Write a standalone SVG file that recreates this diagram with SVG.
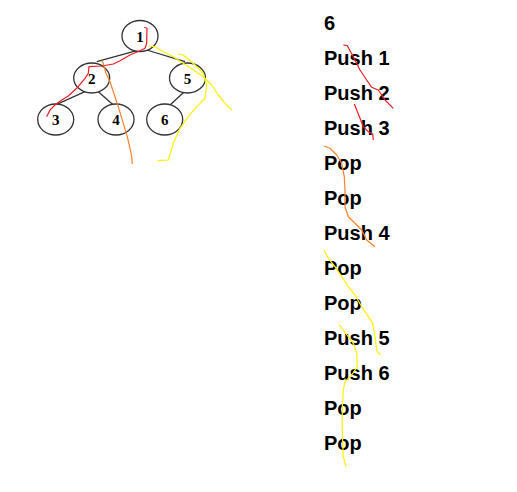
<svg xmlns="http://www.w3.org/2000/svg" width="517" height="492" viewBox="0 0 517 492">
<style>
.n ellipse{fill:#fff;stroke:#333;stroke-width:1.3}
.n text{font-family:"Liberation Serif",serif;font-weight:bold;font-size:15px;text-anchor:middle;fill:#000}
.e line{stroke:#333;stroke-width:1.3}
.s text{font-family:"Liberation Sans",Arial,sans-serif;font-weight:bold;font-size:20px;fill:#000}
.sc polyline{fill:none;stroke-width:1.2;stroke-linejoin:round}
.r{stroke:#ed1c24}.o{stroke:#ff7f27}.y{stroke:#fff200}
</style>
<rect width="517" height="492" fill="#fff"/>
<g class="e" id="connectors">
<line x1="136.7" y1="50.7" x2="96.7" y2="61.7"/>
<line x1="146.7" y1="50" x2="185" y2="61.7"/>
<line x1="85" y1="91.7" x2="56.7" y2="104.3"/>
<line x1="98.3" y1="91.7" x2="113.3" y2="105"/>
<line x1="183.3" y1="92.7" x2="170" y2="105"/>
</g>
<g class="n" id="node1"><ellipse cx="140" cy="36" rx="18" ry="15.5"/><text x="140" y="41.5">1</text></g>
<g class="n" id="node2"><ellipse cx="91.7" cy="78" rx="18" ry="15"/><text x="91.7" y="84">2</text></g>
<g class="n" id="node5"><ellipse cx="187.5" cy="78" rx="18" ry="15"/><text x="187.5" y="84">5</text></g>
<g class="n" id="node3"><ellipse cx="55.7" cy="119.5" rx="18" ry="15.5"/><text x="55.7" y="125">3</text></g>
<g class="n" id="node4"><ellipse cx="116" cy="119.5" rx="18" ry="15.5"/><text x="116" y="125">4</text></g>
<g class="n" id="node6"><ellipse cx="164.7" cy="119.5" rx="18" ry="15.5"/><text x="164.7" y="125">6</text></g>
<g class="s" id="steps">
<text x="324" y="30">6</text>
<text x="324" y="65">Push 1</text>
<text x="324" y="100">Push 2</text>
<text x="324" y="135">Push 3</text>
<text x="324" y="170">Pop</text>
<text x="324" y="205">Pop</text>
<text x="324" y="240">Push 4</text>
<text x="324" y="275">Pop</text>
<text x="324" y="310">Pop</text>
<text x="324" y="345">Push 5</text>
<text x="324" y="380">Push 6</text>
<text x="324" y="415">Pop</text>
<text x="324" y="450">Pop</text>
</g>
<g class="sc" id="scribbles">
<polyline class="r" points="144.3,27.3 147,28.3 146.7,43.3 145,48.3 140,50.7 130,55 120,60.7 113.3,64 101.7,66 89,66.7 88.3,73.3 85,78.3 76.7,88.3 68.3,96 61.7,100 55,105 50,110 46.7,116.7"/>
<polyline class="o" points="101.7,60.7 103.3,63.3 106,73.3 110,81.7 115,96.7 118.3,106.7 123.3,123.3 127.3,136.7 130,148.3 131.7,156.7 132.3,164"/>
<polyline class="y" points="148.3,46 155,46.7 163.3,51.7 173.3,56.7 183.3,63.3 193.3,70 203.3,76.7 211.7,85 218.3,95 225,103.3 231.7,110"/>
<polyline class="y" points="178.3,54 183.3,55 195,65 203.3,73.3 206.7,85 205,98.3 196.7,106.7 188.3,116.7 180,128.3 173.3,143.3 168.3,160 157.3,160.7"/>
<polyline class="r" points="343.3,45 347.3,45.7 353.3,56.7 360,70 366.7,80 371.7,87.3 378.3,90 385,100 393.3,108.3"/>
<polyline class="r" points="354.3,104 356.7,110 360,118.3 363.3,126.7 368.3,131.7 372.7,134 373.3,140"/>
<polyline class="o" points="324.3,146 330,148.3 336.7,155 341.7,163.3 344.3,176.7 345,190 345,206.7 348.3,216.7 355,223.3 361.7,230 366.7,240 375,246.7"/>
<polyline class="y" points="324,250 328.3,258.3 335,266.7 341.7,276.7 348.3,286.7 355,295 361.7,306.7 368.3,316.7 372.7,323.3 375,336.7 376.7,350 378.3,353.3 380.7,354.3"/>
<polyline class="y" points="339.3,325 343.3,330 348.3,336.7 353.3,343.3 356.7,353.3 357.3,366.7 351.7,375 345,381.7 343.3,390 342.3,406.7 342.3,426.7 342.7,443.3 343.3,456.7 346,466.7"/>
</g>
</svg>
